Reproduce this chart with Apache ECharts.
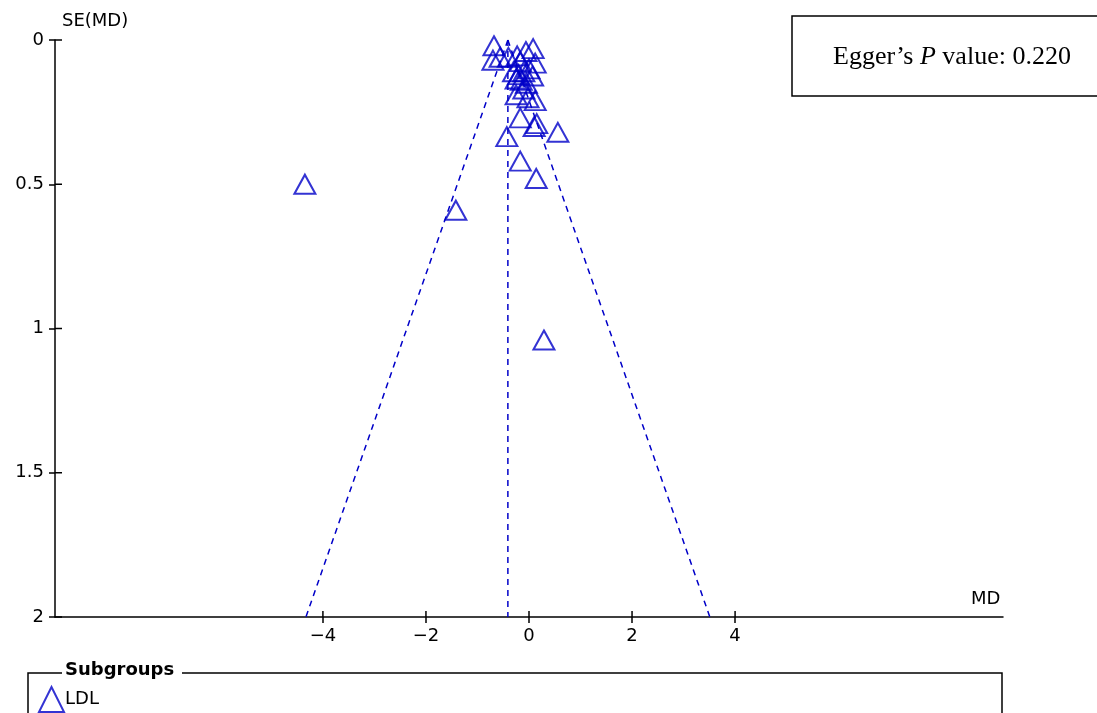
<!DOCTYPE html>
<html>
<head>
<meta charset="utf-8">
<script src="https://cdn.jsdelivr.net/npm/echarts@6/dist/echarts.min.js"></script>
<style>
html,body{margin:0;padding:0;background:#fff;}
#chart{width:1097px;height:713px;}
</style>
</head>
<body>
<div id="chart"></div>
<script>
// ---- data ----
const studyMD = [-0.68,-0.70,-0.56,-0.40,-0.23,-0.06,0.08,0.12,-0.17,-0.30,-0.20,-0.10,0.00,-0.25,-0.15,0.07,-0.05,-0.25,-0.10,0.12,-0.02,-0.17,0.15,0.10,0.56,-0.43,-0.17,0.14,-4.35,-1.42,0.29];
const studySE = [0.02,0.07,0.06,0.06,0.055,0.04,0.03,0.08,0.075,0.11,0.12,0.11,0.10,0.135,0.14,0.125,0.15,0.19,0.17,0.21,0.20,0.27,0.29,0.30,0.32,0.335,0.42,0.48,0.50,0.59,1.04];
const pooledMD = -0.41;
const funnelBottomSE = 2;
const funnelLeftMD = -4.33;
const funnelRightMD = 3.51;
const xTickValues = [-4,-2,0,2,4];
const yTickValues = [0,0.5,1,1.5,2];
const xMin = -9.2, xMax = 9.2;
const seriesName = 'LDL';

const blue = '#0000c8';
const font = 'DejaVu Sans';
const points = studyMD.map((m,i)=>[m, studySE[i]]);

const chart = echarts.init(document.getElementById('chart'), null, {renderer:'canvas'});
const fmt = v => String(v).replace('-', '\u2212');

chart.setOption({
  animation:false,
  backgroundColor:'#fff',
  grid:{left:55, right:94, top:40, bottom:96},
  xAxis:{
    type:'value', min:xMin, max:xMax, position:'bottom',
    splitLine:{show:false},
    axisLine:{onZero:false, lineStyle:{color:'#000', width:1.5}},
    axisTick:{customValues:xTickValues, length:6, lineStyle:{color:'#000', width:1.5}},
    axisLabel:{customValues:xTickValues, formatter:fmt, color:'#000', fontFamily:font, fontSize:18, margin:10}
  },
  yAxis:{
    type:'value', min:0, max:2, interval:0.5, inverse:true, position:'left',
    splitLine:{show:false},
    axisLine:{onZero:false, lineStyle:{color:'#000', width:1.5}},
    axisTick:{customValues:yTickValues, length:6, lineStyle:{color:'#000', width:1.5}},
    axisLabel:{customValues:yTickValues, formatter:v=>String(v), color:'#000', fontFamily:font, fontSize:18, margin:11}
  },
  legend:{
    left:33, top:681, orient:'horizontal',
    itemWidth:25, itemHeight:25, itemGap:8,
    data:[{name:seriesName, icon:'triangle'}],
    textStyle:{color:'#000', fontFamily:font, fontSize:18, padding:[0,0,0,-4]},
    selectedMode:false
  },
  series:[
    {
      type:'custom', name:'xTicksInside', silent:true, clip:false,
      data:xTickValues.map(v=>[v, funnelBottomSE]),
      renderItem:(params, api)=>{
        const p = api.coord([api.value(0), api.value(1)]);
        return {type:'line', shape:{x1:p[0], y1:p[1], x2:p[0], y2:p[1]-6}, style:{stroke:'#000', lineWidth:1.5}};
      }
    },
    {
      type:'custom', name:'yTicksInside', silent:true, clip:false,
      data:yTickValues.map(v=>[xMin, v]),
      renderItem:(params, api)=>{
        const p = api.coord([api.value(0), api.value(1)]);
        return {type:'line', shape:{x1:p[0], y1:p[1], x2:p[0]+7, y2:p[1]}, style:{stroke:'#000', lineWidth:1.5}};
      }
    },
    {
      type:'line', name:'funnelL', silent:true, symbol:'none',
      data:[[pooledMD,0],[funnelLeftMD,funnelBottomSE]],
      lineStyle:{color:blue, width:1.5, type:[6,5]}
    },
    {
      type:'line', name:'funnelR', silent:true, symbol:'none',
      data:[[pooledMD,0],[funnelRightMD,funnelBottomSE]],
      lineStyle:{color:blue, width:1.5, type:[6,5]}
    },
    {
      type:'line', name:'center', silent:true, symbol:'none',
      data:[[pooledMD,0],[pooledMD,funnelBottomSE]],
      lineStyle:{color:blue, width:1.5, type:[6,5]}
    },
    {
      type:'scatter', name:seriesName,
      symbol:'triangle', symbolSize:[21,19],
      data:points,
      itemStyle:{color:'rgba(0,0,0,0)', borderColor:blue, borderWidth:2}
    }
  ],
  graphic:[
    {type:'text', left:62, top:12, style:{text:'SE(MD)', fill:'#000', font:'18px "DejaVu Sans"'}},
    {type:'text', left:971, top:590, style:{text:'MD', fill:'#000', font:'18px "DejaVu Sans"'}},
    {type:'rect', shape:{x:792, y:16, width:320, height:80}, style:{fill:'#fff', stroke:'#000', lineWidth:1.5}},
    {type:'text', x:952, y:57, style:{
      text:'{a|Egger\u2019s }{b|P}{a| value: 0.220}',
      align:'center', verticalAlign:'middle',
      rich:{
        a:{fontFamily:'Liberation Serif', fontSize:26, fill:'#000'},
        b:{fontFamily:'Liberation Serif', fontSize:26, fontStyle:'italic', fill:'#000'}
      }
    }},
    {type:'polyline', shape:{points:[[62,673],[28,673],[28,720]]}, style:{stroke:'#000', lineWidth:1.5, fill:null}},
    {type:'polyline', shape:{points:[[182,673],[1002,673],[1002,720]]}, style:{stroke:'#000', lineWidth:1.5, fill:null}},
    {type:'text', left:65, top:661, style:{text:'Subgroups', fill:'#000', font:'bold 18px "DejaVu Sans"'}}
  ]
});
</script>
</body>
</html>
